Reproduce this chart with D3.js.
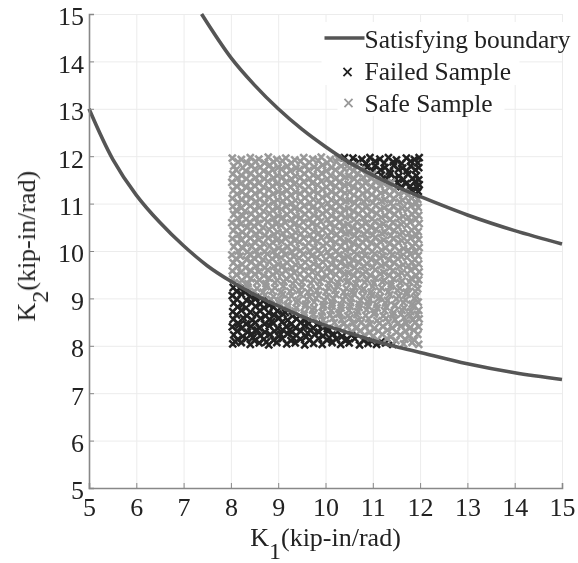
<!DOCTYPE html>
<html>
<head>
<meta charset="utf-8">
<script src="https://cdn.jsdelivr.net/npm/d3@7"></script>
<style>
body { margin: 0; background: #fff; }
text { font-family: "Liberation Serif", serif; fill: #222; }
</style>
</head>
<body>
<figure id="chart" style="margin:0"></figure>
<script>
var tickValues = [5, 6, 7, 8, 9, 10, 11, 12, 13, 14, 15];
var legendLabels = ["Satisfying boundary", "Failed Sample", "Safe Sample"];

// boundary curves
var upperBoundary = [[7.38,15],[8,14.08],[8.5,13.5],[9,13],[9.5,12.57],[10,12.2],[10.5,11.87],[11,11.6],[11.5,11.36],[12,11.15],[13,10.76],[14,10.43],[15,10.15]];
var lowerBoundary = [[5,13],[5.5,11.94],[6,11.18],[6.5,10.6],[7,10.11],[7.5,9.69],[8,9.36],[8.5,9.08],[9,8.84],[9.5,8.62],[10,8.43],[10.5,8.27],[11,8.11],[11.5,7.98],[12,7.86],[13,7.62],[14,7.43],[15,7.29]];

var failedSamples = [
[10.4,11.97],[10.58,11.96],[10.77,11.93],[10.94,11.97],[11.15,11.94],[11.33,11.97],[11.5,11.92],[11.71,11.96],[11.88,11.93],[11.98,11.97],
[10.88,11.77],[11.05,11.8],[11.26,11.76],[11.44,11.8],[11.63,11.75],[11.8,11.79],[11.97,11.76],
[11.18,11.6],[11.37,11.63],[11.55,11.58],[11.74,11.62],[11.92,11.59],
[11.52,11.44],[11.7,11.42],[11.89,11.46],[11.98,11.4],
[11.82,11.28],[11.96,11.26],
[8.04,8.04],[8.22,8.07],[8.41,8.03],[8.6,8.06],[8.8,8.02],[8.97,8.07],[9.18,8.04],[9.36,8.06],[9.56,8.02],[9.75,8.05],[9.93,8.03],[10.14,8.07],[10.32,8.03],[10.5,8.06],[10.72,8.02],[10.9,8.05],[11.08,8.03],[11.27,8.06],[11.42,8.03],
[8.06,8.23],[8.25,8.2],[8.44,8.25],[8.62,8.21],[8.83,8.24],[9.01,8.2],[9.2,8.25],[9.38,8.22],[9.59,8.19],[9.77,8.24],[9.95,8.21],[10.16,8.25],[10.35,8.2],[10.55,8.23],
[8.03,8.4],[8.23,8.37],[8.42,8.41],[8.6,8.38],[8.81,8.42],[8.99,8.37],[9.17,8.41],[9.37,8.38],[9.55,8.42],[9.74,8.37],[9.93,8.4],[10.04,8.36],
[8.05,8.56],[8.26,8.59],[8.45,8.54],[8.63,8.58],[8.82,8.55],[9.02,8.59],[9.2,8.54],[9.39,8.57],[9.56,8.53],
[8.04,8.72],[8.22,8.75],[8.41,8.71],[8.61,8.74],[8.8,8.7],[8.98,8.73],[9.15,8.7],
[8.06,8.9],[8.25,8.87],[8.44,8.91],[8.62,8.88],[8.81,8.86],
[8.03,9.06],[8.22,9.09],[8.4,9.05],[8.53,9.02],
[8.05,9.23],[8.19,9.21],
// second pass, the marks between the rows above
[10.5,11.87],[10.7,11.88],[10.86,11.85],[11.05,11.89],[11.24,11.86],[11.43,11.88],[11.61,11.85],[11.8,11.89],[11.95,11.86],
[11.0,11.69],[11.16,11.71],[11.35,11.68],[11.54,11.72],[11.72,11.69],[11.9,11.71],
[11.31,11.52],[11.47,11.54],[11.65,11.51],[11.84,11.53],[11.97,11.5],
[11.6,11.36],[11.79,11.37],[11.94,11.34],
[11.9,11.19],
[8.14,8.13],[8.33,8.15],[8.5,8.11],[8.7,8.14],[8.9,8.12],[9.09,8.15],[9.27,8.11],[9.47,8.14],[9.66,8.12],[9.85,8.15],[10.03,8.12],[10.23,8.14],[10.42,8.11],[10.62,8.15],[10.8,8.12],[10.98,8.1],[11.18,8.08],
[8.13,8.31],[8.35,8.29],[8.53,8.32],[8.72,8.29],[8.92,8.31],[9.1,8.33],[9.29,8.29],[9.48,8.31],[9.68,8.33],[9.86,8.29],[10.05,8.31],[10.25,8.3],
[8.15,8.48],[8.32,8.46],[8.52,8.49],[8.71,8.46],[8.9,8.48],[9.08,8.5],[9.28,8.46],[9.47,8.49],[9.65,8.47],[9.82,8.45],
[8.12,8.65],[8.34,8.63],[8.54,8.66],[8.73,8.63],[8.91,8.65],[9.1,8.67],[9.3,8.63],
[8.14,8.82],[8.32,8.8],[8.52,8.83],[8.7,8.8],[8.9,8.82],
[8.13,8.98],[8.33,8.96],[8.51,8.99],[8.68,8.95],
[8.12,9.15],[8.3,9.13],
// lower corner, packed a little tighter
[8.09,8.09],[8.47,8.18],[8.75,8.08],[9.05,8.24],[9.32,8.16],[9.62,8.27],[10.08,8.17],[10.46,8.14],[8.18,8.44],[8.56,8.33],[8.86,8.51],[9.24,8.33]
];

var safeSamples = [
[11.65,8.04],[11.83,8.07],[11.97,8.03],
[10.82,8.22],[11.0,8.2],[11.2,8.24],[11.38,8.19],[11.58,8.23],[11.77,8.2],[11.95,8.24],
[10.27,8.38],[10.46,8.41],[10.65,8.37],[10.84,8.4],[11.03,8.36],[11.21,8.41],[11.41,8.38],[11.6,8.42],[11.78,8.37],[11.97,8.4],
[9.77,8.57],[9.95,8.54],[10.15,8.58],[10.34,8.55],[10.52,8.59],[10.7,8.54],[10.91,8.57],[11.09,8.53],[11.28,8.58],[11.47,8.55],[11.66,8.59],[11.84,8.54],[11.98,8.57],
[9.36,8.73],[9.55,8.7],[9.73,8.75],[9.93,8.71],[10.12,8.74],[10.3,8.7],[10.5,8.75],[10.68,8.72],[10.87,8.76],[11.05,8.71],[11.25,8.74],[11.44,8.7],[11.62,8.75],[11.8,8.72],[11.97,8.75],
[9.02,8.9],[9.2,8.87],[9.39,8.91],[9.58,8.88],[9.76,8.92],[9.96,8.87],[10.14,8.9],[10.33,8.86],[10.53,8.91],[10.71,8.88],[10.9,8.92],[11.08,8.87],[11.27,8.9],[11.46,8.86],[11.65,8.91],[11.83,8.88],[11.96,8.92],
[8.72,9.07],[8.9,9.04],[9.09,9.08],[9.28,9.05],[9.47,9.09],[9.66,9.04],[9.85,9.07],[10.03,9.03],[10.22,9.08],[10.42,9.05],[10.6,9.09],[10.79,9.04],[10.98,9.07],[11.16,9.03],[11.36,9.08],[11.55,9.05],[11.73,9.09],[11.92,9.04],
[8.36,9.24],[8.55,9.21],[8.74,9.25],[8.93,9.22],[9.11,9.26],[9.3,9.21],[9.5,9.24],[9.68,9.2],[9.87,9.25],[10.06,9.22],[10.25,9.26],[10.44,9.21],[10.62,9.24],[10.81,9.2],[11.0,9.25],[11.19,9.22],[11.38,9.26],[11.57,9.21],[11.76,9.24],[11.95,9.2],
[8.04,9.41],[8.23,9.38],[8.42,9.42],[8.6,9.39],[8.8,9.43],[8.98,9.38],[9.17,9.41],[9.36,9.37],[9.55,9.42],[9.74,9.39],[9.92,9.43],[10.11,9.38],[10.31,9.41],[10.49,9.37],[10.68,9.42],[10.87,9.39],[11.06,9.43],[11.24,9.38],[11.44,9.41],[11.62,9.37],[11.81,9.42],[11.97,9.39],
[8.03,9.58],[8.21,9.55],[8.41,9.59],[8.59,9.56],[8.78,9.6],[8.97,9.55],[9.16,9.58],[9.34,9.54],[9.54,9.59],[9.72,9.56],[9.91,9.6],[10.1,9.55],[10.29,9.58],[10.48,9.54],[10.67,9.59],[10.85,9.56],[11.05,9.6],[11.23,9.55],[11.42,9.58],[11.61,9.54],[11.8,9.59],[11.98,9.56],
[8.05,9.75],[8.24,9.72],[8.43,9.76],[8.62,9.73],[8.81,9.77],[9.0,9.72],[9.19,9.75],[9.37,9.71],[9.57,9.76],[9.75,9.73],[9.94,9.77],[10.13,9.72],[10.32,9.75],[10.51,9.71],[10.7,9.76],[10.88,9.73],[11.08,9.77],[11.26,9.72],[11.45,9.75],[11.64,9.71],[11.83,9.76],[11.97,9.73],
[8.02,9.92],[8.2,9.89],[8.4,9.93],[8.58,9.9],[8.77,9.94],[8.96,9.89],[9.15,9.92],[9.33,9.88],[9.53,9.93],[9.71,9.9],[9.9,9.94],[10.09,9.89],[10.28,9.92],[10.47,9.88],[10.66,9.93],[10.84,9.9],[11.04,9.94],[11.22,9.89],[11.41,9.92],[11.6,9.88],[11.79,9.93],[11.96,9.9],
[8.06,10.09],[8.25,10.06],[8.44,10.1],[8.63,10.07],[8.82,10.11],[9.01,10.06],[9.2,10.09],[9.38,10.05],[9.58,10.1],[9.76,10.07],[9.95,10.11],[10.14,10.06],[10.33,10.09],[10.52,10.05],[10.71,10.1],[10.89,10.07],[11.09,10.11],[11.27,10.06],[11.46,10.09],[11.65,10.05],[11.84,10.1],[11.98,10.07],
[8.03,10.26],[8.22,10.23],[8.41,10.27],[8.59,10.24],[8.79,10.28],[8.97,10.23],[9.16,10.26],[9.35,10.22],[9.54,10.27],[9.73,10.24],[9.91,10.28],[10.1,10.23],[10.3,10.26],[10.48,10.22],[10.67,10.27],[10.86,10.24],[11.05,10.28],[11.23,10.23],[11.43,10.26],[11.61,10.22],[11.8,10.27],[11.97,10.24],
[8.05,10.43],[8.24,10.4],[8.42,10.44],[8.61,10.41],[8.81,10.45],[8.99,10.4],[9.18,10.43],[9.37,10.39],[9.56,10.44],[9.75,10.41],[9.93,10.45],[10.12,10.4],[10.32,10.43],[10.5,10.39],[10.69,10.44],[10.88,10.41],[11.07,10.45],[11.25,10.4],[11.45,10.43],[11.63,10.39],[11.82,10.44],[11.96,10.41],
[8.02,10.6],[8.21,10.57],[8.4,10.61],[8.58,10.58],[8.78,10.62],[8.96,10.57],[9.15,10.6],[9.34,10.56],[9.53,10.61],[9.72,10.58],[9.9,10.62],[10.09,10.57],[10.29,10.6],[10.47,10.56],[10.66,10.61],[10.85,10.58],[11.04,10.62],[11.22,10.57],[11.42,10.6],[11.6,10.56],[11.79,10.61],[11.98,10.58],
[8.06,10.77],[8.25,10.74],[8.43,10.78],[8.62,10.75],[8.82,10.79],[9.0,10.74],[9.19,10.77],[9.38,10.73],[9.57,10.78],[9.76,10.75],[9.94,10.79],[10.13,10.74],[10.33,10.77],[10.51,10.73],[10.7,10.78],[10.89,10.75],[11.08,10.79],[11.26,10.74],[11.46,10.77],[11.64,10.73],[11.83,10.78],[11.97,10.75],
[8.04,10.94],[8.22,10.91],[8.41,10.95],[8.6,10.92],[8.79,10.96],[8.98,10.91],[9.17,10.94],[9.35,10.9],[9.55,10.95],[9.73,10.92],[9.92,10.96],[10.11,10.91],[10.3,10.94],[10.49,10.9],[10.68,10.95],[10.86,10.92],[11.06,10.96],[11.24,10.91],[11.43,10.94],[11.62,10.9],[11.81,10.95],[11.96,10.92],
[8.03,11.11],[8.23,11.08],[8.42,11.12],[8.61,11.09],[8.8,11.13],[8.99,11.08],[9.18,11.11],[9.36,11.07],[9.56,11.12],[9.74,11.09],[9.93,11.13],[10.12,11.08],[10.31,11.11],[10.5,11.07],[10.69,11.12],[10.87,11.09],[11.07,11.13],[11.25,11.08],[11.44,11.11],[11.63,11.07],[11.82,11.12],[11.95,11.09],
[8.05,11.28],[8.24,11.25],[8.43,11.29],[8.62,11.26],[8.81,11.3],[9.0,11.25],[9.19,11.28],[9.37,11.24],[9.57,11.29],[9.75,11.26],[9.94,11.3],[10.13,11.25],[10.32,11.28],[10.51,11.24],[10.7,11.29],[10.88,11.26],[11.08,11.3],[11.26,11.25],[11.45,11.28],[11.66,11.24],
[8.02,11.45],[8.21,11.42],[8.4,11.46],[8.59,11.43],[8.78,11.47],[8.97,11.42],[9.16,11.45],[9.34,11.41],[9.54,11.46],[9.72,11.43],[9.91,11.47],[10.1,11.42],[10.29,11.45],[10.48,11.41],[10.67,11.46],[10.85,11.43],[11.05,11.47],[11.23,11.42],[11.4,11.45],
[8.04,11.62],[8.23,11.59],[8.42,11.63],[8.6,11.6],[8.8,11.64],[8.98,11.59],[9.17,11.62],[9.36,11.58],[9.55,11.63],[9.74,11.6],[9.92,11.64],[10.11,11.59],[10.31,11.62],[10.49,11.58],[10.68,11.63],[10.87,11.6],[11.0,11.62],
[8.06,11.79],[8.25,11.76],[8.44,11.8],[8.62,11.77],[8.82,11.81],[9.0,11.76],[9.19,11.79],[9.38,11.75],[9.57,11.8],[9.76,11.77],[9.94,11.81],[10.13,11.76],[10.33,11.79],[10.51,11.75],[10.66,11.8],
[8.03,11.96],[8.22,11.93],[8.41,11.97],[8.59,11.94],[8.79,11.98],[8.97,11.93],[9.16,11.96],[9.35,11.92],[9.54,11.97],[9.73,11.94],[9.91,11.98],[10.1,11.93],[10.26,11.96],
// second pass, the marks between the rows above
[11.1,8.13],[11.3,8.15],[11.49,8.11],[11.68,8.14],[11.88,8.12],
[10.55,8.3],[10.74,8.32],[10.93,8.29],[11.12,8.31],[11.31,8.33],[11.5,8.29],[11.69,8.31],[11.87,8.33],
[10.0,8.47],[10.19,8.49],[10.38,8.46],[10.58,8.48],[10.76,8.5],[10.95,8.46],[11.14,8.48],[11.33,8.5],[11.52,8.46],[11.71,8.48],[11.9,8.5],
[9.55,8.65],[9.74,8.67],[9.92,8.63],[10.1,8.65],[10.28,8.67],[10.47,8.63],[10.66,8.66],[10.85,8.64],[11.03,8.67],[11.22,8.63],[11.42,8.65],[11.6,8.67],[11.79,8.64],[11.94,8.66],
[9.2,8.82],[9.38,8.8],[9.57,8.83],[9.76,8.8],[9.95,8.82],[10.14,8.84],[10.33,8.8],[10.52,8.83],[10.71,8.81],[10.9,8.84],[11.09,8.8],[11.28,8.82],[11.47,8.84],[11.66,8.8],[11.85,8.83],
[8.85,8.98],[9.04,8.96],[9.22,8.99],[9.42,8.96],[9.61,8.98],[9.8,9.0],[9.98,8.96],[10.17,8.99],[10.37,8.97],[10.55,9.0],[10.74,8.96],[10.93,8.98],[11.12,9.0],[11.31,8.96],[11.5,8.99],[11.69,8.97],[11.88,9.0],
[8.5,9.15],[8.68,9.13],[8.87,9.16],[9.06,9.13],[9.25,9.15],[9.44,9.17],[9.63,9.13],[9.82,9.16],[10.01,9.14],[10.2,9.17],[10.39,9.13],[10.58,9.15],[10.77,9.17],[10.96,9.13],[11.15,9.16],[11.33,9.14],[11.52,9.17],[11.71,9.13],[11.9,9.15],
[8.18,9.33],[8.36,9.31],[8.55,9.34],[8.74,9.31],[8.93,9.33],[9.12,9.35],[9.31,9.31],[9.5,9.34],[9.69,9.32],[9.88,9.35],[10.07,9.31],[10.26,9.33],[10.45,9.35],[10.64,9.31],[10.83,9.34],[11.02,9.32],[11.2,9.35],[11.39,9.31],[11.58,9.33],[11.78,9.35],[11.93,9.31],
[8.12,9.5],[8.34,9.48],[8.51,9.51],[8.7,9.48],[8.89,9.5],[9.08,9.52],[9.27,9.48],[9.46,9.51],[9.65,9.49],[9.84,9.52],[10.03,9.48],[10.22,9.5],[10.41,9.52],[10.6,9.48],[10.79,9.51],[10.95,9.49],[11.16,9.52],[11.35,9.48],[11.54,9.5],[11.73,9.52],[11.92,9.48],
[8.14,9.67],[8.31,9.65],[8.53,9.68],[8.72,9.65],[8.91,9.67],[9.1,9.69],[9.29,9.65],[9.48,9.68],[9.67,9.66],[9.86,9.69],[10.05,9.65],[10.24,9.67],[10.43,9.69],[10.62,9.65],[10.81,9.68],[11.0,9.66],[11.18,9.69],[11.37,9.65],[11.56,9.67],[11.75,9.69],[11.9,9.65],
[8.11,9.84],[8.33,9.82],[8.49,9.85],[8.68,9.82],[8.87,9.84],[9.06,9.86],[9.25,9.82],[9.44,9.85],[9.63,9.83],[9.82,9.86],[10.01,9.82],[10.2,9.84],[10.39,9.86],[10.58,9.82],[10.77,9.85],[10.96,9.83],[11.15,9.86],[11.34,9.82],[11.53,9.84],[11.72,9.86],[11.89,9.82],
[8.15,10.0],[8.35,9.98],[8.52,10.01],[8.71,9.98],[8.9,10.0],[9.09,10.02],[9.28,9.98],[9.47,10.01],[9.66,9.99],[9.85,10.02],[10.04,9.98],[10.23,10.0],[10.42,10.02],[10.61,9.98],[10.8,10.01],[10.99,9.99],[11.18,10.02],[11.37,9.98],[11.56,10.0],[11.75,10.02],[11.91,9.98],
[8.13,10.18],[8.31,10.16],[8.5,10.19],[8.69,10.16],[8.88,10.18],[9.07,10.2],[9.26,10.16],[9.45,10.19],[9.64,10.17],[9.83,10.2],[10.02,10.16],[10.21,10.18],[10.4,10.2],[10.59,10.16],[10.78,10.19],[10.97,10.17],[11.16,10.2],[11.35,10.16],[11.54,10.18],[11.73,10.2],[11.9,10.16],
[8.16,10.35],[8.33,10.33],[8.53,10.36],[8.72,10.33],[8.91,10.35],[9.1,10.37],[9.29,10.33],[9.48,10.36],[9.67,10.34],[9.86,10.37],[10.05,10.33],[10.24,10.35],[10.43,10.37],[10.62,10.33],[10.81,10.36],[11.0,10.34],[11.19,10.37],[11.38,10.33],[11.57,10.35],[11.76,10.37],[11.92,10.33],
[8.12,10.52],[8.34,10.5],[8.49,10.53],[8.68,10.5],[8.87,10.52],[9.06,10.54],[9.25,10.5],[9.44,10.53],[9.63,10.51],[9.82,10.54],[10.01,10.5],[10.2,10.52],[10.39,10.54],[10.58,10.5],[10.77,10.53],[10.96,10.51],[11.15,10.54],[11.34,10.5],[11.53,10.52],[11.72,10.54],[11.89,10.5],
[8.14,10.69],[8.32,10.67],[8.52,10.7],[8.71,10.67],[8.9,10.69],[9.09,10.71],[9.28,10.67],[9.47,10.7],[9.66,10.68],[9.85,10.71],[10.04,10.67],[10.23,10.69],[10.42,10.71],[10.61,10.67],[10.8,10.7],[10.99,10.68],[11.18,10.71],[11.37,10.67],[11.56,10.69],[11.75,10.71],[11.91,10.67],
[8.11,10.86],[8.3,10.84],[8.5,10.87],[8.69,10.84],[8.88,10.86],[9.07,10.88],[9.26,10.84],[9.45,10.87],[9.64,10.85],[9.83,10.88],[10.02,10.84],[10.21,10.86],[10.4,10.88],[10.59,10.84],[10.78,10.87],[10.97,10.85],[11.16,10.88],[11.35,10.84],[11.54,10.86],[11.73,10.88],[11.9,10.84],
[8.15,11.03],[8.33,11.01],[8.53,11.04],[8.72,11.01],[8.91,11.03],[9.1,11.05],[9.29,11.01],[9.48,11.04],[9.67,11.02],[9.86,11.05],[10.05,11.01],[10.24,11.03],[10.43,11.05],[10.62,11.01],[10.81,11.04],[11.0,11.02],[11.19,11.05],[11.38,11.01],[11.57,11.03],[11.76,11.05],[11.92,11.01],
[8.13,11.2],[8.31,11.18],[8.51,11.21],[8.7,11.18],[8.89,11.2],[9.08,11.22],[9.27,11.18],[9.46,11.21],[9.65,11.19],[9.84,11.22],[10.03,11.18],[10.22,11.2],[10.41,11.22],[10.6,11.18],[10.79,11.21],[10.98,11.19],[11.17,11.22],[11.36,11.18],[11.55,11.2],[11.74,11.18],
[8.12,11.37],[8.32,11.35],[8.5,11.38],[8.69,11.35],[8.88,11.37],[9.07,11.39],[9.26,11.35],[9.45,11.38],[9.64,11.36],[9.83,11.39],[10.02,11.35],[10.21,11.37],[10.4,11.39],[10.59,11.35],[10.78,11.38],[10.97,11.36],[11.16,11.39],[11.35,11.35],
[8.14,11.54],[8.33,11.52],[8.52,11.55],[8.71,11.52],[8.9,11.54],[9.09,11.56],[9.28,11.52],[9.47,11.55],[9.66,11.53],[9.85,11.56],[10.04,11.52],[10.23,11.54],[10.42,11.56],[10.61,11.52],[10.8,11.55],[10.97,11.53],[11.1,11.5],
[8.11,11.71],[8.31,11.69],[8.5,11.72],[8.69,11.69],[8.88,11.71],[9.07,11.73],[9.26,11.69],[9.45,11.72],[9.64,11.7],[9.83,11.73],[10.02,11.69],[10.21,11.71],[10.4,11.73],[10.59,11.69],[10.76,11.71],
[8.15,11.88],[8.34,11.86],[8.52,11.89],[8.71,11.86],[8.9,11.88],[9.09,11.9],[9.28,11.86],[9.47,11.89],[9.66,11.87],[9.85,11.9],[10.04,11.86],[10.23,11.88],[10.42,11.85]
];

// set the dimensions and margins of the graph
var margin = {top: 14, right: 16, bottom: 75, left: 89},
  width = 578 - margin.left - margin.right,
  height = 563 - margin.top - margin.bottom;

var root = d3.select("figure#chart")
.append("svg")
  .attr("width", 578)
  .attr("height", 563)
  .style("display", "block");

// the reference is a soft scan, so everything gets a slight blur
root.append("filter").attr("id", "soft")
  .append("feGaussianBlur").attr("stdDeviation", 0.45);
root.append("filter").attr("id", "softer")
  .append("feGaussianBlur").attr("stdDeviation", 0.6);

var svg = root.append("g")
  .attr("filter", "url(#soft)")
  .attr("transform", "translate(" + margin.left + "," + margin.top + ")");

var x = d3.scaleLinear().domain([5, 15]).range([0, width]);
var y = d3.scaleLinear().domain([5, 15]).range([height, 0]);

// grid
var gridX = svg.append("g")
  .attr("transform", "translate(0," + height + ")")
  .call(d3.axisBottom(x).tickValues(tickValues).tickSize(-height).tickFormat(""));
var gridY = svg.append("g")
  .call(d3.axisLeft(y).tickValues(tickValues).tickSize(-width).tickFormat(""));
[gridX, gridY].forEach(function(g) {
  g.select(".domain").remove();
  g.selectAll("line").attr("stroke", "#ececec").attr("stroke-width", 1);
});

// samples
function drawSamples(data, color) {
  var cross = d3.symbol().type(d3.symbolX).size(34);
  svg.append("g").attr("filter", "url(#softer)").selectAll("path")
    .data(data)
    .enter()
    .append("path")
      .attr("d", cross)
      .attr("fill", "none")
      .attr("stroke", color)
      .attr("stroke-width", 2.5)
      .attr("transform", function(d) { return "translate(" + x(d[0]) + "," + y(d[1]) + ")"; });
}
drawSamples(failedSamples, "#222");
drawSamples(safeSamples, "#999");

// boundary curves
var curve = d3.line()
  .x(function(d) { return x(d[0]); })
  .y(function(d) { return y(d[1]); })
  .curve(d3.curveCatmullRom);
[upperBoundary, lowerBoundary].forEach(function(b) {
  svg.append("path")
    .attr("d", curve(b))
    .attr("fill", "none")
    .attr("stroke", "#555")
    .attr("stroke-width", 3.6);
});

// axes
var xAxis = svg.append("g")
  .attr("transform", "translate(0," + height + ")")
  .call(d3.axisBottom(x).tickValues(tickValues).tickSize(-5).tickPadding(9.5).tickFormat(d3.format("d")));
var yAxis = svg.append("g")
  .call(d3.axisLeft(y).tickValues(tickValues).tickSize(-5).tickPadding(5).tickFormat(d3.format("d")));
[xAxis, yAxis].forEach(function(g) {
  g.select(".domain").attr("stroke", "#888").attr("stroke-width", 1.6);
  g.selectAll("line").attr("stroke", "#888");
  g.selectAll("text").attr("font-size", 26).attr("font-family", "Liberation Serif").attr("fill", "#222");
});
yAxis.selectAll("text").attr("dy", "0.42em");

// axis labels
function axisLabel(g, sub) {
  g.attr("font-size", 26).attr("text-anchor", "middle");
  g.append("tspan").text("K");
  g.append("tspan").attr("dy", 13).attr("font-size", 24).text(sub);
  g.append("tspan").attr("dy", -13).text("(kip-in/rad)");
}
axisLabel(svg.append("text").attr("x", x(10)).attr("y", height + 57.5), "1");
axisLabel(svg.append("text")
  .attr("transform", "translate(-54," + y(10.1) + ") rotate(-90)"), "2");

// legend, each row masks the grid behind it
var legend = svg.append("g").attr("transform", "translate(" + x(10) + ",0)");
var legendMasks = [[-4, 8, 252, 28], [-4, 36, 198, 35], [12, 71, 167, 31]];
legend.selectAll("rect")
  .data(legendMasks)
  .enter()
  .append("rect")
    .attr("x", function(d) { return d[0]; })
    .attr("y", function(d) { return d[1]; })
    .attr("width", function(d) { return d[2]; })
    .attr("height", function(d) { return d[3]; })
    .attr("fill", "#fff");
legend.append("line")
  .attr("x1", -1).attr("x2", 39).attr("y1", 24).attr("y2", 24)
  .attr("stroke", "#555").attr("stroke-width", 3.6);
var legendMarks = d3.symbol().type(d3.symbolX).size(44);
legend.append("path").attr("d", legendMarks).attr("fill", "none").attr("stroke", "#222").attr("stroke-width", 1.8).attr("transform", "translate(22,58)");
legend.append("path").attr("d", legendMarks).attr("fill", "none").attr("stroke", "#999").attr("stroke-width", 1.8).attr("transform", "translate(23,89)");
legend.selectAll("text.entry")
  .data(legendLabels)
  .enter()
  .append("text")
    .attr("class", "entry")
    .attr("x", 39)
    .attr("y", function(d, i) { return 34 + i * 32; })
    .attr("font-size", 25.5)
    .text(function(d) { return d; });
</script>
</body>
</html>
